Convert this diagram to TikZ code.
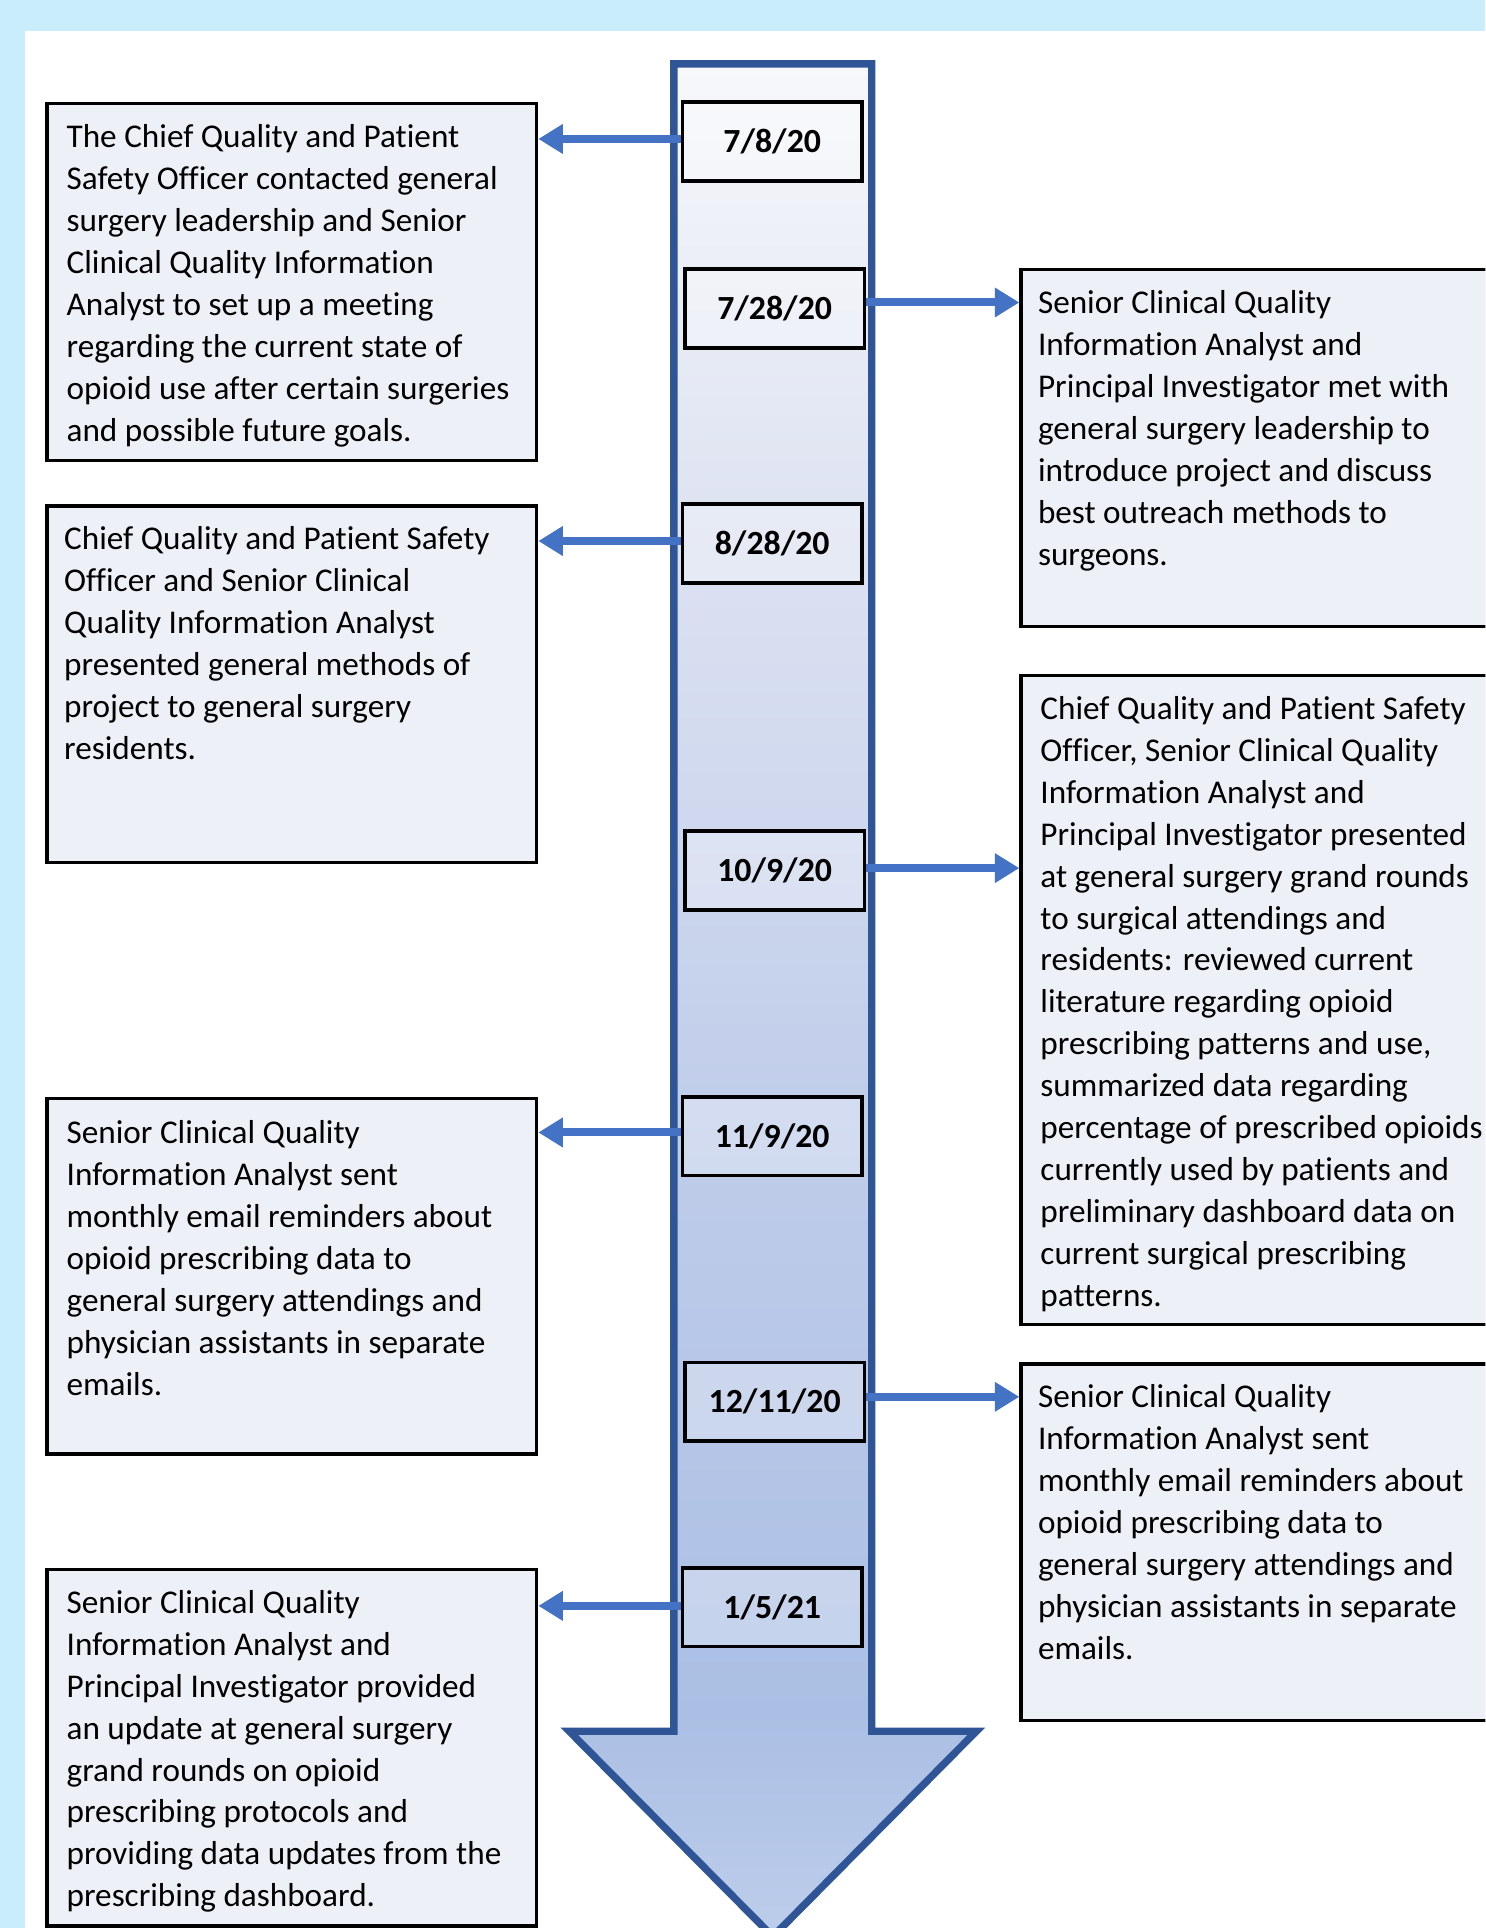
\documentclass[tikz,border=0pt]{standalone}
\usepackage{fontspec}
\setmainfont{Carlito}[Ligatures=NoCommon]
\usetikzlibrary{arrows.meta,calc}
\definecolor{bgblue}{HTML}{C9EDFB}
\definecolor{shaftline}{HTML}{2F5597}
\definecolor{connblue}{HTML}{4472C4}
\definecolor{boxfill}{HTML}{EEF0F7}
\definecolor{sa}{HTML}{BDCDEB}
\definecolor{sb}{HTML}{ABBFE4}
\definecolor{sc}{HTML}{C0CDEA}
\definecolor{sd}{HTML}{DEE3F2}
\definecolor{se}{HTML}{F7F8FB}
\pgfdeclareverticalshading{arrowshade}{100bp}{color(0bp)=(sa); color(25bp)=(sa); color(31bp)=(sb); color(47bp)=(sc); color(63bp)=(sd); color(75bp)=(se); color(100bp)=(se)}
\newcommand{\bodyfnt}{\fontsize{27}{34.1}\selectfont}
\newcommand{\datefnt}{\fontsize{27.5}{30}\selectfont\bfseries}
\begin{document}
\begin{tikzpicture}[x=1pt,y=-1pt,
  tbox/.style={draw=black, line width=2.8pt, fill=boxfill, anchor=north west, inner sep=0pt},
  datebox/.style={draw=black, line width=2.9pt, fill=white, fill opacity=0.3, text opacity=1, minimum width=146pt, minimum height=64pt, inner sep=0pt, font=\datefnt},
  txt/.style={anchor=north west, inner sep=0pt, align=left, font=\bodyfnt},
  conn/.style={draw=connblue, line width=6.5pt, -{Triangle[length=20pt,width=23pt]}}]
\useasboundingbox (0,0) rectangle (1208,1568);
\clip (0,0) rectangle (1208,1568);
% background
\fill[bgblue] (0,0) rectangle (1208,1568);
\fill[white] (20,25) rectangle (1220,1580);
% timeline arrow
\path[shading=arrowshade, draw=shaftline, line width=6pt, line join=miter]
  (548,52) -- (709,52) -- (709,1408) -- (794,1408) -- (628.5,1575) -- (463,1408) -- (548,1408) -- cycle;
% date boxes
\node[datebox] (d1) at (628,115) {7/8/20};
\node[datebox] (d2) at (630,251) {7/28/20};
\node[datebox] (d3) at (628,442) {8/28/20};
\node[datebox] (d4) at (630,708) {10/9/20};
\node[datebox] (d5) at (628,924) {11/9/20};
\node[datebox] (d6) at (630,1140) {12/11/20};
\node[datebox] (d7) at (628,1307) {1/5/21};
% left boxes
\node[tbox, minimum width=398pt, minimum height=290pt] (L1) at (37,83) {};
\node[tbox, minimum width=398pt, minimum height=290pt] (L2) at (37,410) {};
\node[tbox, minimum width=398pt, minimum height=289pt] (L3) at (37,892) {};
\node[tbox, minimum width=398pt, minimum height=290pt] (L4) at (37,1275) {};
% right boxes
\node[tbox, minimum width=395pt, minimum height=290pt] (R1) at (829,218) {};
\node[tbox, minimum width=395pt, minimum height=528pt] (R2) at (829,548) {};
\node[tbox, minimum width=395pt, minimum height=290pt] (R3) at (829,1108) {};
% texts
\node[txt] (L1t) at ($(L1.north west)+(17,13)$) {\strut The Chief Quality and Patient\\Safety Officer contacted general\\surgery leadership and Senior\\Clinical Quality Information\\Analyst to set up a meeting\\regarding the current state of\\opioid use after certain surgeries\\and possible future goals.};
\node[txt] (L2t) at ($(L2.north west)+(15,13)$) {\strut Chief Quality and Patient Safety\\Officer and Senior Clinical\\Quality Information Analyst\\presented general methods of\\project to general surgery\\residents.};
\node[txt] (L3t) at ($(L3.north west)+(17,14)$) {\strut Senior Clinical Quality\\Information Analyst sent\\monthly email reminders about\\opioid prescribing data to\\general surgery attendings and\\physician assistants in separate\\emails.};
\node[txt] (L4t) at ($(L4.north west)+(17,13)$) {\strut Senior Clinical Quality\\Information Analyst and\\Principal Investigator provided\\an update at general surgery\\grand rounds on opioid\\prescribing protocols and\\providing data updates from the\\prescribing dashboard.};
\node[txt] (R1t) at ($(R1.north west)+(15,13)$) {\strut Senior Clinical Quality\\Information Analyst and\\Principal Investigator met with\\general surgery leadership to\\introduce project and discuss\\best outreach methods to\\surgeons.};
\node[txt] (R2t) at ($(R2.north west)+(17,13)$) {\strut Chief Quality and Patient Safety\\Officer, Senior Clinical Quality\\Information Analyst and\\Principal Investigator presented\\at general surgery grand rounds\\to surgical attendings and\\residents: reviewed current\\literature regarding opioid\\prescribing patterns and use,\\summarized data regarding\\percentage of prescribed opioids\\currently used by patients and\\preliminary dashboard data on\\current surgical prescribing\\patterns.};
\node[txt] (R3t) at ($(R3.north west)+(15,13)$) {\strut Senior Clinical Quality\\Information Analyst sent\\monthly email reminders about\\opioid prescribing data to\\general surgery attendings and\\physician assistants in separate\\emails.};
% connectors
\draw[conn] ([yshift=2pt]d1.west) -- ([yshift=2pt]d1.west -| L1.east);
\draw[conn] ([yshift=2pt]d3.west) -- ([yshift=2pt]d3.west -| L2.east);
\draw[conn] ([yshift=3pt]d5.west) -- ([yshift=3pt]d5.west -| L3.east);
\draw[conn] ([yshift=1pt]d7.west) -- ([yshift=1pt]d7.west -| L4.east);
\draw[conn] ([yshift=5pt]d2.east) -- ([yshift=5pt]d2.east -| R1.west);
\draw[conn] ([yshift=2pt]d4.east) -- ([yshift=2pt]d4.east -| R2.west);
\draw[conn] ([yshift=4pt]d6.east) -- ([yshift=4pt]d6.east -| R3.west);
\end{tikzpicture}
\end{document}
